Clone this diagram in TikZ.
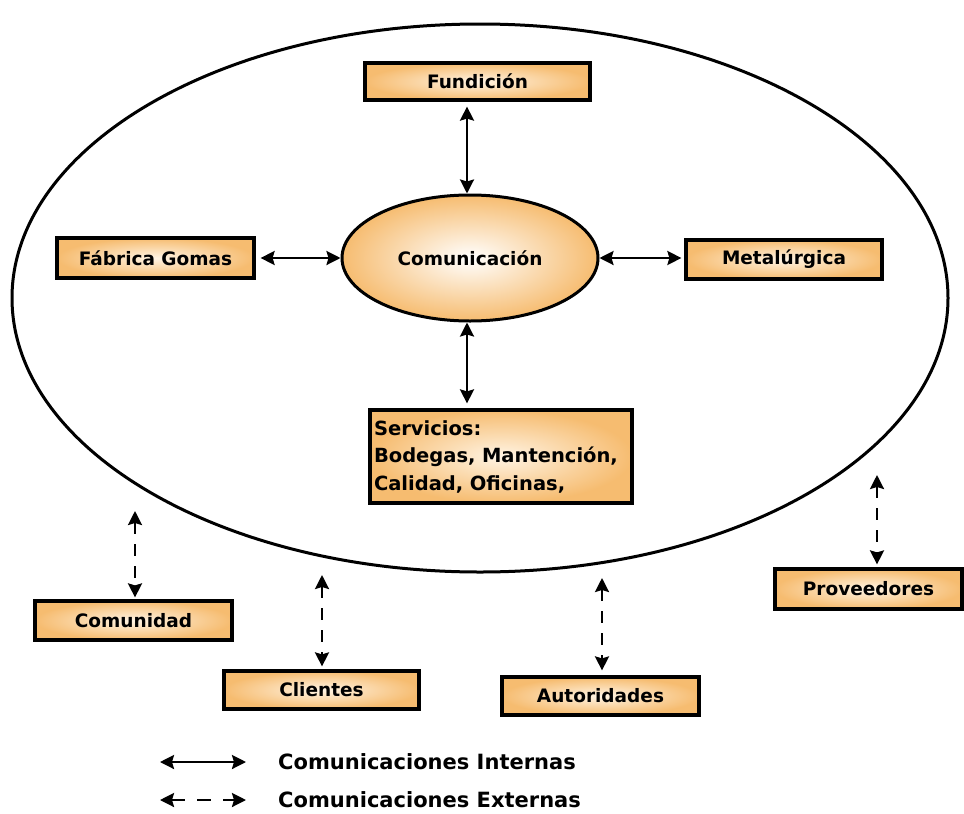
\documentclass[tikz,border=0pt]{standalone}
\usepackage{fontspec}
\setmainfont{DejaVu Sans}
\usetikzlibrary{arrows.meta,shapes.geometric,calc}
\definecolor{boxorange}{RGB}{246,188,112}
\definecolor{lightorange}{RGB}{255,244,228}
\tikzset{
  unit box/.style={draw=black, line width=3.2pt, rectangle, inner sep=0pt,
    inner color=lightorange, outer color=boxorange,
    font=\fontsize{18.5}{27}\selectfont\bfseries},
  hub/.style={draw=black, line width=3pt, ellipse, inner sep=0pt,
    minimum width=256pt, minimum height=126pt,
    inner color=white, outer color=boxorange,
    font=\fontsize{18.5}{20}\selectfont\bfseries},
  headtip/.tip={Stealth[length=14pt,width=14pt,inset=2pt]},
  internal/.style={line width=2.4pt, headtip-headtip},
  external/.style={internal, dash pattern=on 12pt off 10pt},
  legend text/.style={anchor=west, inner sep=0pt, font=\fontsize{21}{24}\selectfont\bfseries}
}
\begin{document}
\begin{tikzpicture}[x=1pt,y=-1pt]
\useasboundingbox (0,0) rectangle (964,814);

% company boundary
\node[draw=black, line width=3pt, ellipse, minimum width=936pt, minimum height=548pt,
      inner sep=0pt] (empresa) at (480,298) {};

% central hub
\node[hub] (com) at (470,258) {Comunicación};

% internal units
\node[unit box, minimum width=225pt, minimum height=37pt] (fun) at (477.5,81.5) {Fundición};
\node[unit box, minimum width=197pt, minimum height=40pt] (fab) at (155.5,258) {Fábrica Gomas};
\node[unit box, minimum width=196pt, minimum height=39pt] (met) at (784,259.5) {Metalúrgica};
\node[unit box, minimum width=262pt, minimum height=93pt, align=left,
      text width=254pt, font=\fontsize{19.5}{27.5}\selectfont\bfseries]
      (ser) at (501,456.5) {Servicios:\\Bodegas, Mantención,\\Calidad, Oficinas,};

% external parties
\node[unit box, minimum width=197pt, minimum height=39pt] (cmd) at (133.5,620.5) {Comunidad};
\node[unit box, minimum width=195pt, minimum height=38pt] (cli) at (321.5,690) {Clientes};
\node[unit box, minimum width=197pt, minimum height=38pt] (aut) at (600.5,696) {Autoridades};
\node[unit box, minimum width=187pt, minimum height=40pt] (pro) at (868.5,589) {Proveedores};

% internal communication
\draw[internal] ($(fun.south -| 467,0)+(0,5)$) -- (com.north -| 467,0);
\draw[internal] ($(fab.east)+(5,0)$) -- (com.west);
\draw[internal] (com.east) -- ($(com.east -| met.west)+(-3,0)$);
\draw[internal] (com.south -| 467,0) -- ($(ser.north -| 467,0)+(0,-5)$);

% external communication
\coordinate (e1) at (135,511);
\coordinate (e2) at (322,575);
\coordinate (e3) at (602,578);
\coordinate (e4) at (877,475);
\draw[external] (e1) -- ($(cmd.north -| e1)+(0,-2)$);
\draw[external] (e2) -- ($(cli.north -| e2)+(0,-3)$);
\draw[external] (e3) -- ($(aut.north -| e3)+(0,-5)$);
\draw[external] (e4) -- ($(pro.north -| e4)+(0,-3)$);

% legend
\coordinate (l1a) at (160,762); \coordinate (l1b) at (246,762);
\coordinate (l2a) at (160,800); \coordinate (l2b) at (246,800);
\draw[internal] (l1a) -- (l1b);
\draw[external, dash pattern=on 14pt off 12pt] (l2a) -- (l2b);
\node[legend text] (lt1) at (278,762) {Comunicaciones Internas};
\node[legend text] (lt2) at (278,800) {Comunicaciones Externas};
\end{tikzpicture}
\end{document}
